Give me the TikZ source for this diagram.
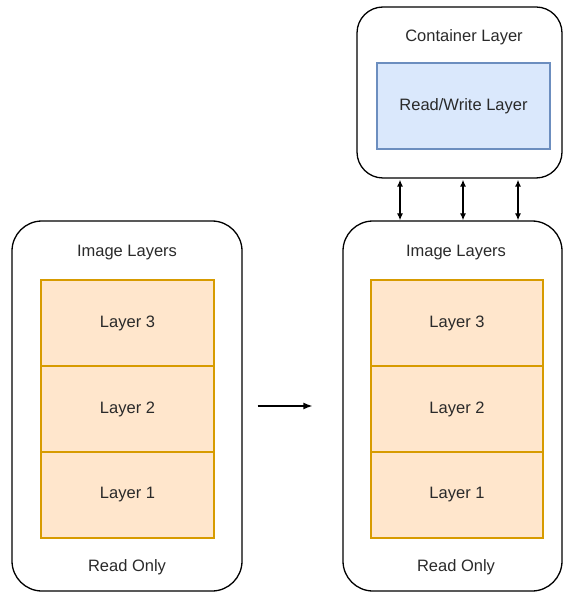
\documentclass[tikz,border=0pt]{standalone}
\usepackage{fontspec}
\setmainfont{Liberation Sans}
\usepackage{tikz}
\usetikzlibrary{positioning,calc,arrows.meta}
\tikzset{>={Latex[length=9pt,width=7pt]}}
\definecolor{layerfill}{HTML}{FFE6CC}
\definecolor{layerdraw}{HTML}{D79B00}
\definecolor{rwfill}{HTML}{DAE8FC}
\definecolor{rwdraw}{HTML}{6C8EBF}
\definecolor{txtgray}{HTML}{2A2A2A}
\tikzset{
  outerbox/.style={draw, line width=1.3pt, rounded corners=30pt, inner sep=0pt},
  layerbox/.style={draw=layerdraw, fill=layerfill, line width=1.1pt, minimum width=173pt, minimum height=86pt, inner sep=0pt, text=txtgray},
  rwbox/.style={draw=rwdraw, fill=rwfill, line width=1.1pt, minimum width=173pt, minimum height=86pt, inner sep=0pt, text=txtgray},
  caption/.style={text=txtgray, inner sep=0pt, anchor=base}
}

\begin{document}
\begin{tikzpicture}[x=1pt, y=-1pt, font=\fontsize{16.5}{19}\selectfont]
            \useasboundingbox (0,0) rectangle (564,593);

            % left: image only
            \node[outerbox, minimum width=230pt, minimum height=370pt] (imgL) at (127,406) {};
            \node[caption] (imgLtitle) at (127,256.5) {Image Layers};
            \node[caption] (imgLro) at (127,571.5) {Read Only};
            \foreach \n/\y in {3/323, 2/409, 1/495}
            {
            \node[layerbox] (lyrL\n) at (127.5,\y) {Layer \n};
            }

            % right: image with container on top
            \node[outerbox, minimum width=219pt, minimum height=370pt] (imgR) at (452.5,406) {};
            \node[caption] (imgRtitle) at (456,256.5) {Image Layers};
            \node[caption] (imgRro) at (456,571.5) {Read Only};
            \foreach \n/\y in {3/323, 2/409, 1/495}
            {
            \node[layerbox, minimum width=172pt] (lyrR\n) at (457,\y) {Layer \n};
            }

            \node[outerbox, rounded corners=26pt, minimum width=205pt, minimum height=171pt] (cont) at (459.5,92.5) {};
            \node[caption] (conttitle) at (464,41.5) {Container Layer};
            \node[rwbox] (rw) at (463.5,106) {Read/Write Layer};

            % arrows
            \draw[->, line width=1.3pt] ([xshift=15pt]imgL.east) -- ([xshift=-30pt]imgR.west);
            \foreach \x in {400,463,518}
            {
            \draw[{Latex[length=7pt,width=6pt]}-{Latex[length=7pt,width=6pt]}, line width=1.3pt] ([yshift=-1pt]cont.south -| \x,0) -- (imgR.north -| \x,0);
            }
\end{tikzpicture}
\end{document}
